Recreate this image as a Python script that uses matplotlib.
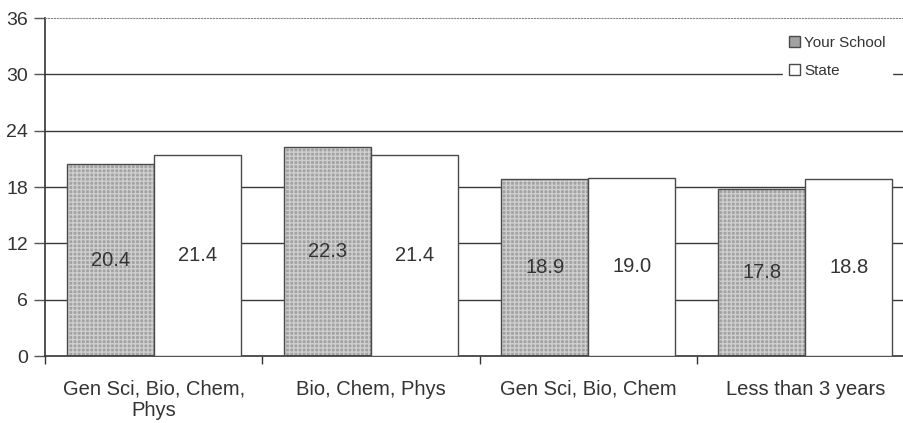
import matplotlib
matplotlib.use("Agg")
import matplotlib.pyplot as plt
import numpy as np
from matplotlib.patches import Patch

categories = ["Gen Sci, Bio, Chem,\nPhys", "Bio, Chem, Phys", "Gen Sci, Bio, Chem", "Less than 3 years"]
school = [20.4, 22.3, 18.9, 17.8]
state = [21.4, 21.4, 19.0, 18.8]
yticks = [0, 6, 12, 18, 24, 30, 36]

plt.rcParams['font.family'] = ['Liberation Sans', 'DejaVu Sans']

fig = plt.figure(figsize=(9.04, 4.23), dpi=100)
fig.patch.set_facecolor('white')
ax = fig.add_axes([45/904, (423-356)/423, 869/904, 338/423])

x = np.arange(len(categories))
w = 0.4
ax.set_xlim(-0.5, len(categories) - 0.5)
ax.set_ylim(0, 36)

for yv in yticks[1:-1]:
    ax.axhline(yv, color='#3a3a3a', lw=1.0, zorder=1)

# school bars: gray textured fill
ax.bar(x - w/2, school, w, color='#a2a2a2', edgecolor='#cfcfcf', hatch='++++', lw=0, zorder=2)
ax.bar(x - w/2, school, w, facecolor='none', edgecolor='#4a4a4a', lw=1.0, zorder=3)
ax.bar(x + w/2, state, w, color='white', edgecolor='#4a4a4a', lw=1.0, zorder=3)

for xi, v in zip(x - w/2, school):
    ax.text(xi, v/2, f"{v:.1f}", ha='center', va='center', fontsize=14.5, color='#333333', zorder=4)
for xi, v in zip(x + w/2, state):
    ax.text(xi, v/2, f"{v:.1f}", ha='center', va='center', fontsize=14.5, color='#333333', zorder=4)

ax.set_yticks(yticks)
ax.set_yticklabels([str(t) for t in yticks], fontsize=14, color='#333333')
ax.set_xticks(x)
ax.set_xticklabels(categories, fontsize=14.5, color='#333333', linespacing=1.15)
ax.tick_params(axis='x', length=0, pad=17)
ax.set_xticks(np.arange(len(categories) + 1) - 0.5, minor=True)
ax.tick_params(axis='x', which='minor', length=6, width=1, color='#333333')
ax.tick_params(axis='y', length=8, width=1, color='#555555', pad=4)

for s in ['left', 'bottom']:
    ax.spines[s].set_color('#333333')
    ax.spines[s].set_linewidth(1.2)
ax.spines['top'].set_color('#888888')
ax.spines['top'].set_linestyle(':')
ax.spines['right'].set_visible(False)

handles = [Patch(facecolor='#a2a2a2', edgecolor='#4a4a4a', label='Your School'),
           Patch(facecolor='white', edgecolor='#4a4a4a', label='State')]
leg = fig.legend(handles=handles, loc='upper left', bbox_to_anchor=(775/904, 1 - 22/423),
                 frameon=True, fontsize=11, handlelength=0.75, handleheight=0.75, handletextpad=0.25,
                 borderpad=0.4, labelspacing=0.9, fancybox=False)
leg.get_frame().set_edgecolor('white')
leg.get_frame().set_facecolor('white')
leg.get_frame().set_alpha(1)
for t in leg.get_texts():
    t.set_color('#333333')

fig.savefig("out.png", dpi=100)
